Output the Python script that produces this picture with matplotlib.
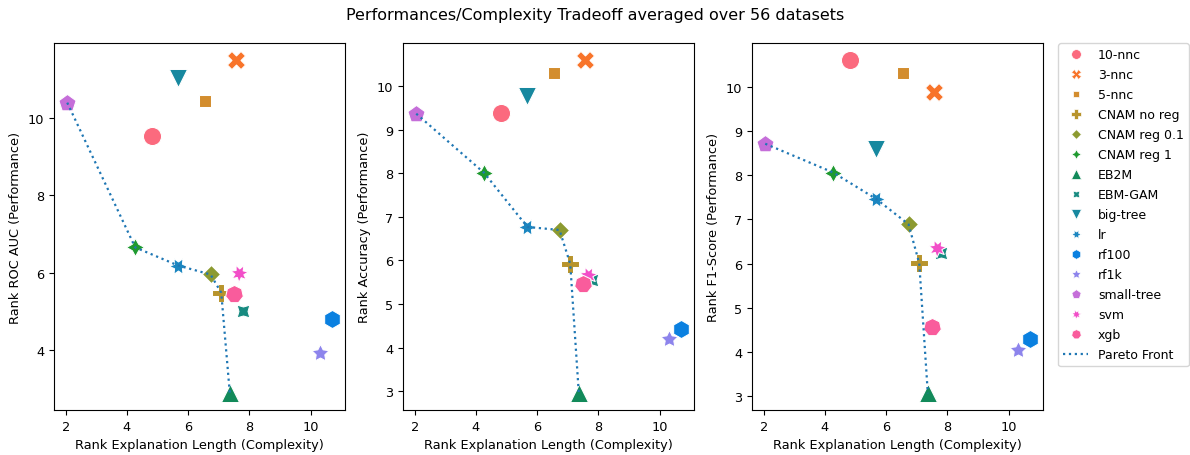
import numpy as np
import matplotlib
matplotlib.use("Agg")
import matplotlib.pyplot as plt
from matplotlib.lines import Line2D

models = ["10-nnc", "3-nnc", "5-nnc", "CNAM no reg", "CNAM reg 0.1", "CNAM reg 1",
          "EB2M", "EBM-GAM", "big-tree", "lr", "rf100", "rf1k", "small-tree", "svm", "xgb"]
complexity = [4.82, 7.57, 6.54, 7.08, 6.73, 4.27, 7.36, 7.80, 5.67, 5.68, 10.69, 10.31, 2.05, 7.66, 7.50]
rank_roc_auc = [9.54, 11.50, 10.44, 5.48, 5.95, 6.65, 2.88, 5.00, 11.03, 6.18, 4.80, 3.93, 10.39, 5.99, 5.44]
rank_accuracy = [9.39, 10.61, 10.30, 5.92, 6.70, 8.01, 2.95, 5.56, 9.77, 6.77, 4.43, 4.20, 9.37, 5.67, 5.47]
rank_f1 = [10.61, 9.88, 10.32, 6.01, 6.89, 8.06, 3.07, 6.24, 8.60, 7.46, 4.29, 4.06, 8.71, 6.35, 4.57]
ylabels = ["Rank ROC AUC (Performance)", "Rank Accuracy (Performance)", "Rank F1-Score (Performance)"]
xlabel = "Rank Explanation Length (Complexity)"
title = "Performances/Complexity Tradeoff averaged over 56 datasets"

colors = ["#fb6a7e", "#f8742a", "#d38d2e", "#b8942c", "#8c9a30", "#1f9a30", "#128a5a",
          "#178a80", "#17889f", "#1b86c0", "#0a80e0", "#8d84ec", "#c56ed9", "#f24ec8", "#f95c9c"]
markers = ["o", "X", (4, 0, 45), "P", (4, 0, 0), (4, 1, 0), "^", (4, 1, 45), "v",
           (6, 1, 30), (6, 0, 0), (5, 1, 0), (5, 0, 0), (7, 1, 360 / 8 / 2), (7, 0, 0)]

plt.rcParams["font.family"] = "DejaVu Sans"
plt.rcParams["font.size"] = 9.3

W, H = 1190, 456
fig = plt.figure(figsize=(W / 100, H / 100), dpi=100)
lefts = [54, 403, 752]
axw, top, bot = 291, 44, 411


def pareto(xs, ys):
    idx = np.argsort(xs)
    px, py = [], []
    best = np.inf
    for i in idx:
        if ys[i] < best:
            best = ys[i]
            px.append(xs[i])
            py.append(ys[i])
    return px, py


for k, (perf, yl) in enumerate(zip([rank_roc_auc, rank_accuracy, rank_f1], ylabels)):
    ax = fig.add_axes([lefts[k] / W, 1 - bot / H, axw / W, (bot - top) / H])
    for m, x, y, c, mk in zip(models, complexity, perf, colors, markers):
        ax.scatter([x], [y], s=170, marker=mk, color=c, edgecolor="white", linewidth=0.75, zorder=2)
    px, py = pareto(np.array(complexity), np.array(perf))
    ax.plot(px, py, linestyle=":", color="#1f77b4", linewidth=1.6, zorder=3)
    ax.set_xlabel(xlabel)
    ax.set_ylabel(yl)
    ax.set_xticks([2, 4, 6, 8, 10])

handles = [Line2D([], [], linestyle="none", marker=mk, color=c, markeredgecolor="white",
                  markeredgewidth=0.5, markersize=7, label=m)
           for m, c, mk in zip(models, colors, markers)]
handles.append(Line2D([], [], linestyle=":", color="#1f77b4", linewidth=1.6, label="Pareto Front"))
fig.legend(handles=handles, loc="upper left", bbox_to_anchor=(1058 / W, 1 - 44 / H),
           borderaxespad=0, fontsize=9, handlelength=2.0, labelspacing=0.56)
fig.suptitle(title, fontsize=11.5, y=1 - 8 / H, va="top")
fig.savefig("out.png", dpi=100)
